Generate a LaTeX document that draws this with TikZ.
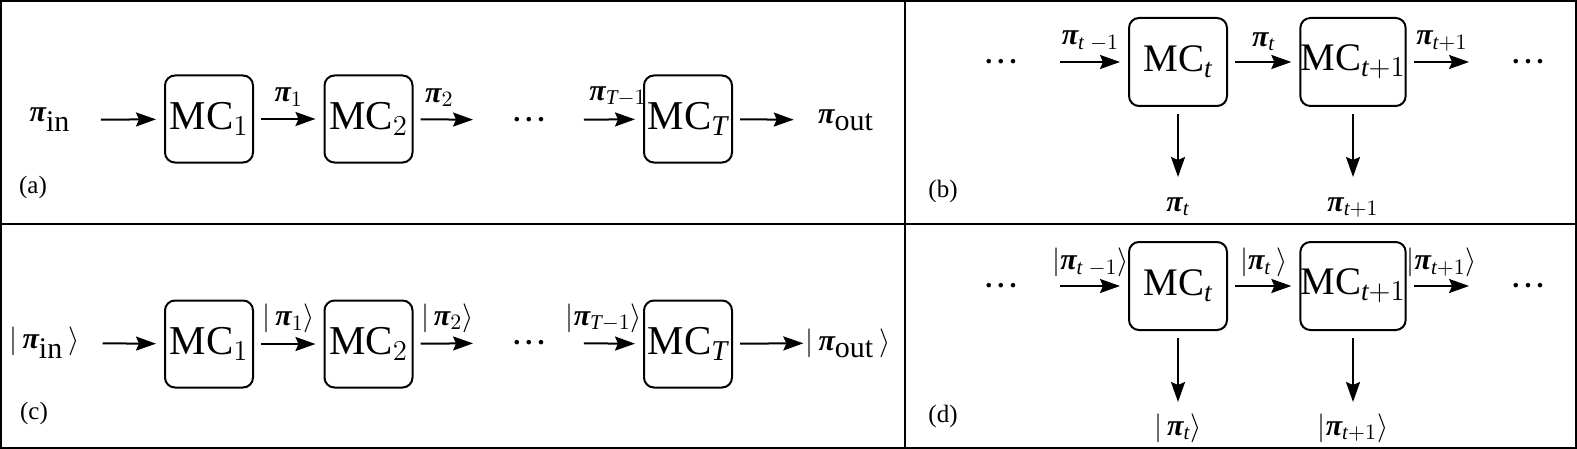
\documentclass[tikz,border=0pt]{standalone}
\usepackage{fontspec}
\setmainfont{Liberation Serif}
\usetikzlibrary{arrows.meta}
\newcommand{\bpi}{\mbox{\bfseries\itshape π}}
\newcommand{\mcdots}{\smash{\raisebox{-0.065em}{\bfseries .\kern0.18em.\kern0.18em.}}}
\begin{document}
\begin{tikzpicture}[x=0.5pt,y=-0.5pt,
	mc/.style={draw, line width=1pt, rounded corners=5pt, inner sep=0pt, minimum width=44pt, minimum height=43.5pt, font=\fontsize{20.5}{24}\selectfont},
	mcwide/.style={mc, minimum width=49pt, minimum height=44pt, font=\fontsize{19.5}{23}\selectfont},
	arr/.style={-{Stealth[length=10pt,width=7pt,inset=1.5pt]}, line width=1pt, shorten <=3.5pt, shorten >=4pt},
	lbl/.style={font=\fontsize{15}{18}\selectfont, inner sep=1pt},
	endt/.style={font=\fontsize{15}{18}\selectfont, inner ysep=1pt},
	dotsn/.style={font=\fontsize{14}{16}\selectfont, inner ysep=1pt},
	tag/.style={font=\fontsize{12.5}{15}\selectfont}]

	\useasboundingbox (0,0) rectangle (1577,449);
	\draw[line width=0.8pt] (0.8,0.8) rectangle (1576.2,448.2);
	\draw[line width=0.8pt] (0,224) -- (1577,224);
	\draw[line width=0.8pt] (905,0) -- (905,449);

	% (a) classical chain
	\node[endt, inner xsep=11.5pt] (inA) at (50,120) {$\bpi_{\textstyle\mathrm{in}}$};
	\node[mc] (mc1A) at (209,119) {MC$_1$};
	\node[mc] (mc2A) at (368.5,119) {MC$_2$};
	\node[dotsn, inner xsep=16pt] (dotsA) at (529,120) {\mcdots};
	\node[mc] (mcTA) at (688,119) {MC$_{\mathit{T}}$};
	\node[endt, inner xsep=8pt] (outA) at (846,120) {$\bpi_{\textstyle\mathrm{out}}$};
	\draw[arr] (inA) -- (mc1A);
	\draw[arr] (mc1A) -- node[lbl, above=5pt] {$\bpi_1$} (mc2A);
	\draw[arr] (mc2A) -- node[lbl, above=5pt, xshift=-4pt] {$\bpi_2$} (dotsA);
	\draw[arr] (dotsA) -- node[lbl, above=5pt, xshift=4pt] {$\bpi_{\mathit{T}-1}$} (mcTA);
	\draw[arr] (mcTA) -- (outA);
	\node[tag] (tagA) at (33,187) {(a)};

	% (b) one step, classical
	\node[dotsn, inner xsep=18pt] (dotsB1) at (1001,62) {\mcdots};
	\node[mcwide] (mctB) at (1178,62) {MC$_{\mathit{t}}$};
	\node[mcwide] (mct1B) at (1353,62) {MC$_{\mathit{t}+1}$};
	\node[dotsn, inner xsep=17.5pt] (dotsB2) at (1528,62) {\mcdots};
	\draw[arr] (dotsB1) -- node[lbl, above=4pt] {$\bpi_{\mathit{t}\;{-}1}$} (mctB);
	\draw[arr] (mctB) -- node[lbl, above=4pt] {$\bpi_{\mathit{t}}$} (mct1B);
	\draw[arr] (mct1B) -- node[lbl, above=4pt] {$\bpi_{\mathit{t}+1}$} (dotsB2);
	\node[lbl, anchor=north] (ptB) at (1178,195) {$\bpi_{\mathit{t}}$};
	\node[lbl, anchor=north] (pt1B) at (1353,195) {$\bpi_{\mathit{t}+1}$};
	\draw[arr, shorten >=9pt] (mctB) -- (ptB);
	\draw[arr, shorten >=9pt] (mct1B) -- (pt1B);
	\node[tag] (tagB) at (943,191) {(b)};

	% (c) quantum chain
	\node[endt, inner xsep=8pt] (inC) at (44.5,343) {$|\,\bpi_{\textstyle\mathrm{in}}\,\rangle$};
	\node[mc] (mc1C) at (209,344) {MC$_1$};
	\node[mc] (mc2C) at (368.5,344) {MC$_2$};
	\node[dotsn, inner xsep=16pt] (dotsC) at (529,343) {\mcdots};
	\node[mc] (mcTC) at (688,344) {MC$_{\mathit{T}}$};
	\node[endt, inner xsep=0pt] (outC) at (848,343) {$|\,\bpi_{\textstyle\mathrm{out}}\,\rangle$};
	\draw[arr] (inC) -- (mc1C);
	\draw[arr] (mc1C) -- node[lbl, above=4pt] {$|\,\bpi_1\rangle$} (mc2C);
	\draw[arr] (mc2C) -- node[lbl, above=4pt] {$|\,\bpi_2\rangle$} (dotsC);
	\draw[arr] (dotsC) -- node[lbl, above=4pt, xshift=-3pt] {$|\bpi_{\mathit{T}-1}\rangle$} (mcTC);
	\draw[arr, shorten >=1pt] (mcTC) -- (outC);
	\node[tag] (tagC) at (34,413) {(c)};

	% (d) one step, quantum
	\node[dotsn, inner xsep=18pt] (dotsD1) at (1001,286) {\mcdots};
	\node[mcwide] (mctD) at (1178,286) {MC$_{\mathit{t}}$};
	\node[mcwide] (mct1D) at (1353,286) {MC$_{\mathit{t}+1}$};
	\node[dotsn, inner xsep=17.5pt] (dotsD2) at (1528,286) {\mcdots};
	\draw[arr] (dotsD1) -- node[lbl, above=3pt] {$|\bpi_{\mathit{t}\;{-}1}\rangle$} (mctD);
	\draw[arr] (mctD) -- node[lbl, above=3pt] {$|\bpi_{\mathit{t}}\,\rangle$} (mct1D);
	\draw[arr] (mct1D) -- node[lbl, above=3pt] {$|\bpi_{\mathit{t}+1}\rangle$} (dotsD2);
	\node[lbl, anchor=north] (ptD) at (1178,411) {$|\,\bpi_{\mathit{t}}\rangle$};
	\node[lbl, anchor=north] (pt1D) at (1353,411) {$|\bpi_{\mathit{t}+1}\rangle$};
	\draw[arr, shorten >=4.5pt] (mctD) -- (ptD);
	\draw[arr, shorten >=4.5pt] (mct1D) -- (pt1D);
	\node[tag] (tagD) at (943,416) {(d)};
\end{tikzpicture}
\end{document}
